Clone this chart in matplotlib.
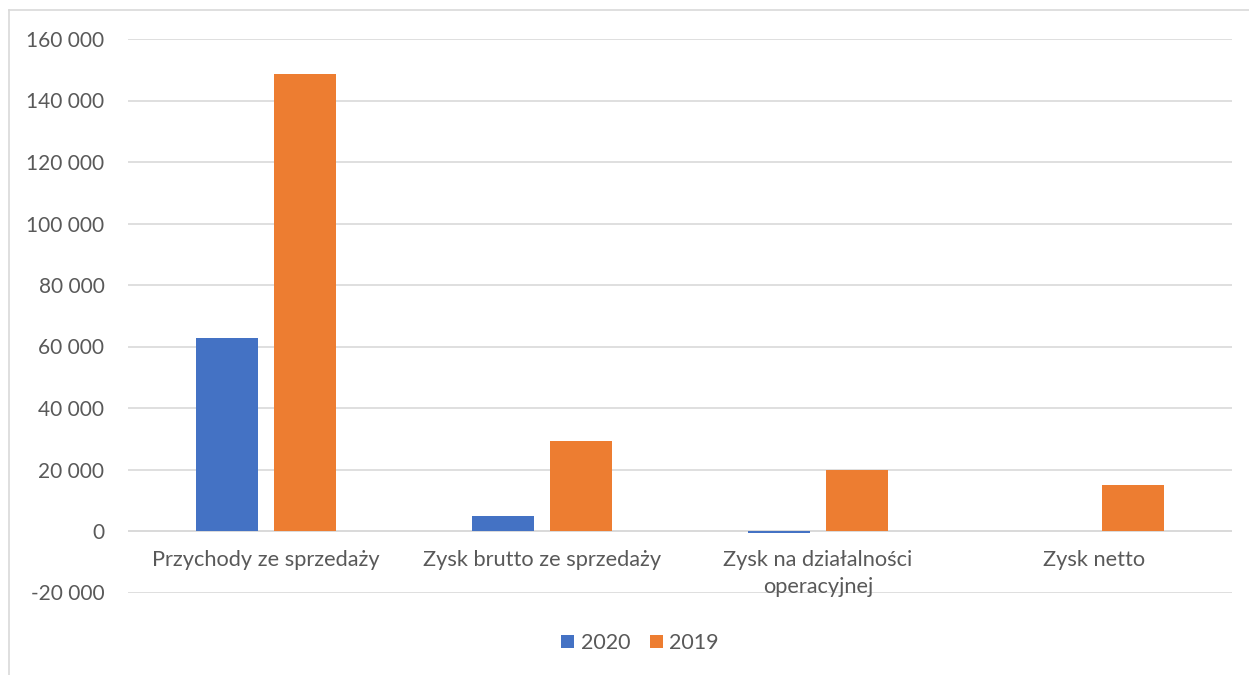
import numpy as np
import matplotlib.pyplot as plt
from matplotlib.lines import Line2D

categories = ["Przychody ze sprzedaży", "Zysk brutto ze sprzedaży",
              "Zysk na działalności\noperacyjnej", "Zysk netto"]
v2020 = [62700, 4800, -500, 0]
v2019 = [148700, 29400, 19700, 14800]
yticks = [-20000, 0, 20000, 40000, 60000, 80000, 100000, 120000, 140000, 160000]

plt.rcParams['font.family'] = ['Lato', 'DejaVu Sans']
grey = "#595959"

fig = plt.figure(figsize=(12.49, 6.75), dpi=100)
ax = fig.add_axes([128/1249, 1-592.5/675, (1232-128)/1249, (592.5-39)/675])

x = np.arange(len(categories))
w = 0.225
off = 0.142
ax.bar(x - off, v2020, w, color="#4472C4", label="2020", zorder=3)
ax.bar(x + off, v2019, w, color="#ED7D31", label="2019", zorder=3)

ax.set_xlim(-0.5, len(categories) - 0.5)
ax.set_ylim(-20000, 160000)
ax.set_yticks(yticks)
ax.set_yticklabels([f"{t:,}".replace(",", " ") for t in yticks])
ax.grid(axis="y", color="#d9d9d9", linewidth=1.2, zorder=0)
ax.axhline(0, color="#d9d9d9", linewidth=1.2, zorder=2)
for s in ax.spines.values():
    s.set_visible(False)
ax.tick_params(axis="both", length=0, labelsize=15, labelcolor=grey)
ax.tick_params(axis="y", pad=17)
ax.set_xticks([])

# category labels under the zero line
for i, c in enumerate(categories):
    fig.text((128 + (1232-128)*(i+0.5)/4)/1249, 1-550/675, c, ha="center", va="top",
             fontsize=15.7, color=grey, linespacing=1.45)

leg = fig.legend(loc="center", bbox_to_anchor=(640/1249, 1-643/675), ncol=2, frameon=False,
                 fontsize=15.5, handlelength=0.6, handleheight=0.6, handletextpad=0.3,
                 columnspacing=0.9)
for t in leg.get_texts():
    t.set_color(grey)

fig.add_artist(Line2D([9/1249, 1], [1-10/675, 1-10/675], color="#d9d9d9", linewidth=1.2))
fig.add_artist(Line2D([9/1249, 9/1249], [0, 1-10/675], color="#d9d9d9", linewidth=1.2))

fig.savefig("out.png", dpi=100)
